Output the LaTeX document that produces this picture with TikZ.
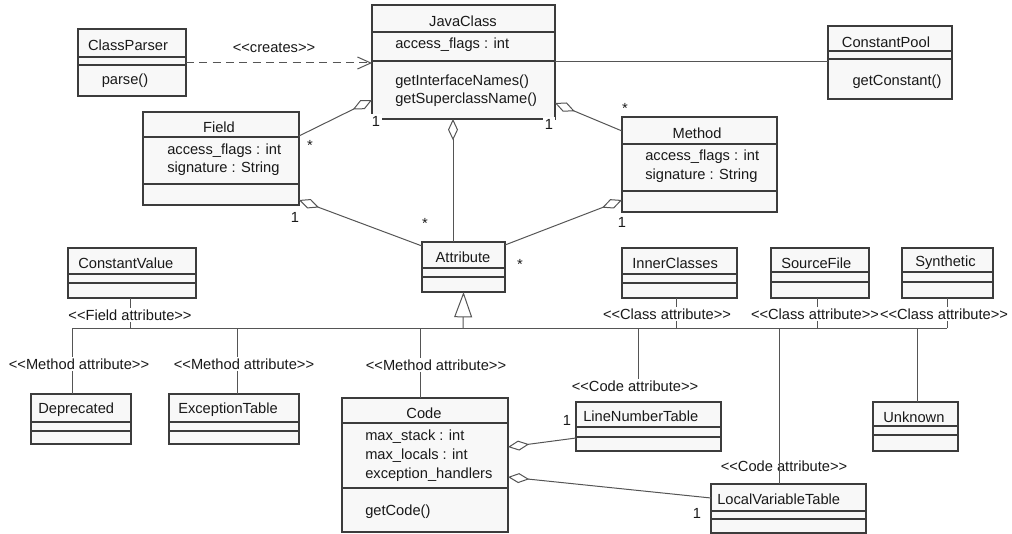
\documentclass[tikz,border=0pt]{standalone}
\usepackage{fontspec}
\setmainfont{Liberation Sans}[Ligatures=TeXOff]
\usetikzlibrary{arrows.meta}
\definecolor{boxfill}{RGB}{248,248,248}
\definecolor{linegray}{RGB}{60,60,60}
\definecolor{conngray}{RGB}{85,85,85}
% class box given by its corners (pixel units)
\newcommand\umlbox[5]{%
  \node[classbox, minimum width={(#4-#2)*0.75pt}, minimum height={(#5-#3)*0.75pt}]
    (#1) at ({(#2+#4)/2},{(#3+#5)/2}) {};}
% compartment separators of a class box
\newcommand\compart[3]{%
  \draw[sepline] (#1.west |- 0,#2) -- (#1.east |- 0,#2);
  \draw[sepline] (#1.west |- 0,#3) -- (#1.east |- 0,#3);}
\begin{document}
\begin{tikzpicture}[x=0.75pt,y=-0.75pt,
  font=\fontsize{11}{13}\selectfont,
  classbox/.style={draw=linegray, fill=boxfill, line width=0.8pt, inner sep=0pt, outer sep=0pt},
  sepline/.style={draw=linegray, line width=0.8pt},
  conn/.style={draw=conngray, line width=0.75pt},
  txt/.style={inner sep=0pt, text=black!90},
  stereo/.style={inner sep=1.5pt, fill=white, text=black!90},
  mult/.style={inner sep=1.2pt, fill=white, text=black!90},
  agg/.style={conn, {Diamond[fill=white, length=16pt, width=7.5pt, line width=0.75pt]}-},
  gen/.style={conn, -{Triangle[fill=white, length=19pt, width=13.5pt, line width=0.75pt]}},
  dep/.style={conn, dash pattern=on 6pt off 4pt, -{Straight Barb[length=10pt, width=9pt, line width=0.75pt]}},
]
\useasboundingbox (0,0) rectangle (1012,534);

% ---------- classes ----------
\umlbox{cp}{78}{29}{186}{96}
\compart{cp}{57}{65}
\node[txt] (cp-n) at (128,45) {ClassParser};
\node[txt] (cp-o) at (125,81) {parse()};

\umlbox{jc}{372}{5}{555}{119}
\compart{jc}{32}{61}
\node[txt] (jc-n) at (463,21) {JavaClass};
\node[txt, anchor=west] (jc-a) at (395,45) {access\_flags : int};
\node[txt, anchor=west] (jc-o1) at (395,82) {getInterfaceNames()};
\node[txt, anchor=west] (jc-o2) at (395,100) {getSuperclassName()};

\umlbox{pool}{828}{26}{952}{99}
\compart{pool}{51}{59}
\node[txt] (pool-n) at (886,42) {ConstantPool};
\node[txt] (pool-o) at (897,82) {getConstant()};

\umlbox{field}{143}{112}{299}{205}
\compart{field}{137}{184}
\node[txt] (field-n) at (219,127) {Field};
\node[txt, anchor=west] (field-a1) at (167,151) {access\_flags : int};
\node[txt, anchor=west] (field-a2) at (167,169) {signature : String};

\umlbox{meth}{622}{117}{777}{212}
\compart{meth}{144}{191}
\node[txt] (meth-n) at (697,133) {Method};
\node[txt, anchor=west] (meth-a1) at (645,157) {access\_flags : int};
\node[txt, anchor=west] (meth-a2) at (645,176) {signature : String};

\umlbox{attr}{422}{242}{505}{292}
\compart{attr}{268}{277}
\node[txt] (attr-n) at (463,257) {Attribute};

\umlbox{cv}{68}{248}{196}{298}
\compart{cv}{274}{283}
\node[txt, anchor=west] (cv-n) at (78,263) {ConstantValue};

\umlbox{inner}{622}{248}{737}{298}
\compart{inner}{274}{283}
\node[txt, anchor=west] (inner-n) at (632,263) {InnerClasses};

\umlbox{src}{771}{248}{869}{298}
\compart{src}{272}{282}
\node[txt, anchor=west] (src-n) at (781,263) {SourceFile};

\umlbox{syn}{902}{248}{993}{298}
\compart{syn}{272}{282}
\node[txt, anchor=west] (syn-n) at (915,263) {Synthetic};

\umlbox{depr}{31}{394}{131}{444}
\compart{depr}{422}{431}
\node[txt, anchor=west] (depr-n) at (38,410) {Deprecated};

\umlbox{exc}{169}{394}{299}{444}
\compart{exc}{422}{431}
\node[txt, anchor=west] (exc-n) at (178,410) {ExceptionTable};

\umlbox{code}{342}{398}{508}{532}
\compart{code}{423}{488}
\node[txt] (code-n) at (424,413) {Code};
\node[txt, anchor=west] (code-a1) at (365,437) {max\_stack : int};
\node[txt, anchor=west] (code-a2) at (365,456) {max\_locals : int};
\node[txt, anchor=west] (code-a3) at (365,475) {exception\_handlers};
\node[txt, anchor=west] (code-o) at (365,512) {getCode()};

\umlbox{lnt}{576}{402}{721}{451}
\compart{lnt}{427}{437}
\node[txt, anchor=west] (lnt-n) at (583,416) {LineNumberTable};

\umlbox{lvt}{711}{484}{866}{533}
\compart{lvt}{511}{519}
\node[txt, anchor=west] (lvt-n) at (717,499) {LocalVariableTable};

\umlbox{unk}{873}{402}{958}{451}
\compart{unk}{426}{435}
\node[txt, anchor=west] (unk-n) at (883,417) {Unknown};

% ---------- associations at the top ----------
\draw[dep] (cp.east |- 0,63) -- (jc.west |- 0,63);
\node[txt] (creates) at (274,48) {<<creates>>};
\draw[conn] (jc.east |- 0,62) -- (pool.west |- 0,62);

\draw[agg] (jc.west |- 0,100) -- (field.east |- 0,136);
\draw[agg] (jc.east |- 0,103) -- (meth.west |- 0,131);
\draw[agg] (jc.south -| 453,0) -- (attr.north -| 453,0);
\draw[agg] (field.east |- 0,200) -- (attr.west |- 0,246);
\draw[agg] (meth.west |- 0,200) -- (attr.east |- 0,245);

% multiplicities
\node[mult] (m-jc1) at (376,121) {1};
\node[mult] (m-jc2) at (549,124) {1};
\node[mult] (m-f1) at (310,145) {*};
\node[mult] (m-f2) at (295,217) {1};
\node[mult] (m-m1) at (625,108) {*};
\node[mult] (m-m2) at (622,222) {1};
\node[mult] (m-a1) at (425,223) {*};
\node[mult] (m-a2) at (520,264) {*};

% ---------- generalization bus ----------
\coordinate (busL) at (72,328);
\coordinate (busR) at (947,328);
\coordinate (busT) at (463,328);
\draw[conn] (busL) -- (busR);
\draw[gen] (busT) -- (attr.south);

% drops from the bus, each with its stereotype
\draw[conn] (cv.south -| 130,0) -- (busL -| 130,0);
\node[stereo] (st-cv) at (130,315) {<<Field attribute>>};

\draw[conn] (busL) -- (depr.north -| busL);
\node[stereo] (st-depr) at (79,364) {<<Method attribute>>};

\draw[conn] (busL -| 237,0) -- (exc.north -| 237,0);
\node[stereo] (st-exc) at (244,364) {<<Method attribute>>};

\draw[conn] (busL -| 420,0) -- (code.north -| 420,0);
\node[stereo] (st-code) at (436,365) {<<Method attribute>>};

\coordinate (lntdrop) at (638,380);
\draw[conn] (busL -| lntdrop) -- (lntdrop);
\node[stereo] (st-lnt) at (635,386) {<<Code attribute>>};

\draw[conn] (inner.south -| 676,0) -- (busL -| 676,0);
\node[stereo] (st-inner) at (667,314) {<<Class attribute>>};

\draw[conn] (src.south -| 817,0) -- (busL -| 817,0);
\node[stereo] (st-src) at (815,314) {<<Class attribute>>};

\draw[conn] (syn.south -| busR) -- (busR);
\node[stereo] (st-syn) at (944,314) {<<Class attribute>>};

\draw[conn] (busL -| 917,0) -- (unk.north -| 917,0);

\node[txt] (st-lvt) at (784,466) {<<Code attribute>>};
\draw[conn] (busL -| 779,0) -- (lvt.north -| 779,0);

% ---------- Code aggregations ----------
\draw[agg] (code.east |- 0,447) -- (lnt.west |- 0,438);
\draw[agg] (code.east |- 0,477) -- (lvt.west |- 0,498);
\node[mult] (m-lnt) at (567,420) {1};
\node[mult] (m-lvt) at (697,513) {1};
\end{tikzpicture}
\end{document}
